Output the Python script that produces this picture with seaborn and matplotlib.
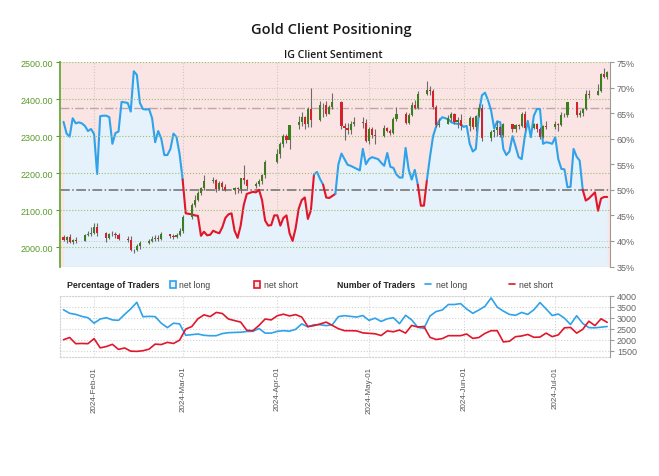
import pandas as pd
import matplotlib
matplotlib.use("Agg")
from matplotlib import pyplot as plt
from matplotlib.patches import Rectangle
from matplotlib.lines import Line2D
import matplotlib.dates as mdates
import seaborn as sns

sns.set_style("white")
plt.rcParams['font.family'] = ['Liberation Sans', 'DejaVu Sans']

# ---------------------------------
# DATA

# gold daily candles, weekdays, market closed on Good Friday
candle_dates = pd.bdate_range('2024-01-22', '2024-07-18').drop(pd.Timestamp('2024-03-29'))
opens = [2029, 2021, 2029, 2014, 2021, 2018, 2033, 2037, 2039, 2054,
         2039, 2025, 2035, 2035, 2034, 2024, 2020, 1992, 1992, 2004,
         2013, 2017, 2024, 2025, 2024, 2035, 2031, 2029, 2034, 2044,
         2083, 2114, 2128, 2148, 2159, 2179, 2182, 2158, 2175, 2162,
         2155, 2160, 2157, 2186, 2181, 2165, 2172, 2179, 2195,
         2230, 2251, 2280, 2300, 2290, 2330, 2339, 2352, 2333, 2373,
         2344, 2383, 2383, 2361, 2379, 2392, 2327, 2322, 2316, 2332,
         2337, 2335, 2286, 2320, 2303, 2301, 2323, 2314, 2309, 2346,
         2360, 2336, 2358, 2385, 2376, 2415, 2425, 2421, 2379, 2329,
         2334, 2350, 2360, 2338, 2343, 2327, 2350, 2326, 2355, 2375,
         2294, 2311, 2316, 2324, 2303, 2333, 2319, 2329, 2328, 2360,
         2322, 2334, 2320, 2298, 2327, 2326, 2332, 2330, 2356, 2356,
         2392, 2358, 2363, 2372, 2415, 2411, 2422, 2469, 2460]
highs = [2033, 2032, 2037, 2023, 2027, 2036, 2044, 2056, 2065, 2066,
         2041, 2040, 2043, 2041, 2039, 2031, 2032, 1997, 2008, 2016,
         2023, 2032, 2033, 2034, 2041, 2037, 2037, 2038, 2052, 2088,
         2119, 2142, 2153, 2164, 2195, 2189, 2185, 2178, 2180, 2170,
         2164, 2163, 2188, 2222, 2184, 2176, 2185, 2198, 2236,
         2266, 2285, 2305, 2305, 2330, 2354, 2365, 2355, 2378, 2431,
         2396, 2390, 2395, 2385, 2417, 2395, 2335, 2335, 2340, 2352,
         2353, 2346, 2326, 2326, 2320, 2330, 2326, 2319, 2351, 2378,
         2364, 2362, 2391, 2398, 2422, 2450, 2434, 2426, 2385, 2350,
         2358, 2364, 2362, 2352, 2361, 2354, 2352, 2358, 2388, 2387,
         2316, 2318, 2342, 2327, 2335, 2334, 2332, 2334, 2365, 2368,
         2335, 2336, 2324, 2330, 2340, 2340, 2336, 2365, 2363, 2392,
         2393, 2370, 2375, 2425, 2424, 2440, 2470, 2483, 2477]
lows = [2016, 2011, 2011, 2009, 2011, 2016, 2030, 2031, 2035, 2030,
        2014, 2022, 2030, 2025, 2020, 2015, 1990, 1984, 1989, 1997,
        2010, 2014, 2018, 2018, 2021, 2026, 2024, 2025, 2030, 2038,
        2076, 2109, 2125, 2142, 2154, 2175, 2150, 2155, 2155, 2152,
        2145, 2146, 2146, 2172, 2157, 2160, 2166, 2172, 2186,
        2228, 2240, 2270, 2282, 2266, 2320, 2328, 2320, 2325, 2326,
        2340, 2352, 2355, 2360, 2373, 2320, 2291, 2305, 2305, 2327,
        2322, 2285, 2280, 2295, 2278, 2298, 2310, 2303, 2306, 2340,
        2333, 2333, 2354, 2372, 2373, 2411, 2410, 2374, 2325, 2324,
        2332, 2340, 2334, 2323, 2317, 2313, 2318, 2315, 2352, 2287,
        2286, 2298, 2300, 2299, 2299, 2311, 2310, 2320, 2326, 2316,
        2318, 2310, 2293, 2294, 2319, 2318, 2315, 2327, 2352, 2353,
        2353, 2351, 2355, 2370, 2403, 2411, 2418, 2458, 2455]
closes = [2021, 2029, 2014, 2021, 2018, 2033, 2037, 2039, 2054, 2039,
          2025, 2035, 2035, 2034, 2024, 2020, 1992, 1992, 2004, 2013,
          2017, 2024, 2025, 2024, 2035, 2031, 2029, 2034, 2044, 2083,
          2114, 2128, 2148, 2159, 2179, 2182, 2158, 2175, 2162, 2155,
          2160, 2157, 2186, 2181, 2165, 2172, 2179, 2195, 2230,
          2251, 2280, 2300, 2290, 2330, 2339, 2352, 2333, 2373, 2344,
          2383, 2383, 2361, 2379, 2392, 2327, 2322, 2316, 2332, 2337,
          2335, 2286, 2320, 2303, 2301, 2323, 2314, 2309, 2346, 2360,
          2336, 2358, 2385, 2376, 2415, 2425, 2421, 2379, 2329, 2334,
          2350, 2360, 2338, 2343, 2327, 2350, 2326, 2355, 2375, 2294,
          2311, 2316, 2324, 2303, 2333, 2319, 2329, 2328, 2360, 2322,
          2334, 2320, 2298, 2327, 2326, 2332, 2330, 2356, 2356, 2392,
          2358, 2363, 2372, 2415, 2411, 2422, 2469, 2460, 2472]

# IG client sentiment, % of traders net long (daily)
sent_dates = pd.date_range('2024-01-22', '2024-07-18', freq='D')
net_long_pct = [
    63.3, 61.0, 60.4, 64.0, 63.0, 63.2, 63.0, 62.5, 61.5, 61.9,
    60.9, 53.1, 64.4, 64.5, 64.5, 64.2, 59.0, 61.1, 61.4, 67.2, 67.1, 67.0, 65.3, 73.2, 72.5,
    67.0, 65.8, 65.7, 65.8, 64.0, 59.3, 61.5, 60.0, 56.8, 56.8, 58.0, 61.0, 60.3, 57.0,
    52.0, 45.4, 45.3, 45.2, 45.0, 44.9, 41.0, 41.8, 41.1, 41.2, 42.0, 41.7, 41.5, 42.7, 44.5,
    45.2, 45.4, 42.0, 40.6, 43.0, 47.0, 49.2, 49.4, 49.6, 49.5, 50.0, 48.0, 44.0, 43.0, 43.1, 45.0,
    45.0, 43.0, 44.5, 45.0, 41.5, 40.0, 42.5, 46.3, 48.0, 48.5, 44.3, 46.0, 53.0, 53.5, 52.1,
    51.0, 48.5, 48.4, 48.8, 49.2, 55.0, 57.1, 56.0, 54.9, 54.7, 54.4, 54.1, 53.8, 58.0, 55.0,
    56.0, 56.4, 56.2, 56.0, 55.3, 54.7, 57.2, 54.5, 54.3, 53.0, 52.4, 52.4, 58.2, 54.0, 52.0, 53.9,
    51.0, 46.9, 46.9, 52.0, 56.5, 60.5, 62.4, 63.5, 64.2, 64.0, 63.8, 63.2, 63.0, 62.9, 62.9,
    62.3, 62.5, 59.0, 57.5, 58.0, 65.0, 68.5, 69.0, 67.5, 65.5, 62.0, 63.4, 63.2, 58.0, 56.8,
    57.5, 60.5, 58.5, 56.4, 56.0, 60.3, 63.5, 60.3, 64.5, 65.8, 65.8, 59.0, 59.3, 59.2, 59.0,
    60.3, 56.0, 54.1, 54.0, 50.5, 50.6, 58.0, 56.5, 55.7, 50.0, 47.9, 48.3, 48.9, 49.5, 45.9,
    48.3, 48.6, 48.6]

# number of traders, every second day
count_dates = pd.date_range('2024-01-22', '2024-07-18', freq='2D')
long_count = [3360, 3200, 3150, 3060, 3000, 2750, 2940, 3000, 2900, 2880,
              3150, 3400, 3700, 3047, 3060, 3050, 2750, 2550, 2750, 2720,
              2200, 2230, 2259, 2200, 2180, 2183, 2280, 2320, 2330, 2340,
              2375, 2380, 2510, 2300, 2300, 2380, 2410, 2390, 2470, 2720,
              2580, 2680, 2680, 2640, 2680, 3050, 3092, 3060, 3030, 3100,
              2880, 2980, 2830, 2950, 3000, 2730, 3110, 2900, 2560, 2520,
              3080, 3280, 3350, 3600, 3600, 3640, 3395, 3200, 3350, 3520,
              3900, 3480, 3300, 3150, 3110, 3240, 3150, 3360, 3690, 3400,
              3100, 3168, 2980, 2690, 3090, 2740, 2550, 2540, 2570, 2600]
short_count = [2000, 2100, 1820, 1830, 1820, 2050, 1630, 1690, 1790, 1560,
               1625, 1480, 1470, 1500, 1570, 1800, 1780, 1880, 1830, 1980,
               2480, 2600, 2950, 3130, 3050, 3240, 3190, 2940, 2870, 2800,
               2430, 2410, 2650, 2940, 2900, 3090, 3160, 3080, 3140, 3030,
               2600, 2640, 2714, 2800, 2650, 2500, 2410, 2410, 2400, 2310,
               2289, 2270, 2190, 2400, 2360, 2440, 2300, 2650, 2580, 2600,
               2107, 2010, 2050, 2183, 2183, 2183, 2259, 2060, 2100, 2289,
               2410, 2410, 1900, 1930, 2138, 2170, 2240, 2110, 2120, 2300,
               2140, 2220, 2540, 2560, 2300, 2470, 2840, 2640, 2950, 2790]

price_ticks = [2000, 2100, 2200, 2300, 2400, 2500]
pct_ticks = [35, 40, 45, 50, 55, 60, 65, 70, 75]
count_ticks = [1500, 2000, 2500, 3000, 3500, 4000]
month_ticks = pd.to_datetime(['2024-02-01', '2024-03-01', '2024-04-01',
                              '2024-05-01', '2024-06-01', '2024-07-01'])

# ---------------------------------
BLUE = '#2ea2ea'
RED = '#e0162b'
GREEN_TXT = '#5a9a2a'
GRAY_TXT = '#666666'
xlim = (pd.Timestamp('2024-01-20 20:00'), pd.Timestamp('2024-07-18 22:00'))

fig = plt.figure(figsize=(6.59, 4.77), dpi=100)

fig.text(0.503, 1 - 30 / 477, 'Gold Client Positioning', ha='center', va='center',
         family=['Open Sans', 'DejaVu Sans'], fontweight='semibold', fontsize=10.5, color='#1a1a1a')
fig.text(0.505, 1 - 55 / 477, 'IG Client Sentiment', ha='center', va='center',
         family=['Open Sans', 'DejaVu Sans'], fontweight='semibold', fontsize=7.6, color='#1a1a1a')

# main panel: sentiment on the right axis, candles on the left axis
ax = fig.add_axes([0.0910, 0.4392, 0.8346, 0.4287])
ax.set_facecolor('#fbe4e4')
ax.fill_between(sent_dates, 35, net_long_pct, color='#e5f2fb', lw=0)

# colour the sentiment line by side of 50%
run_x, run_y, run_c = [sent_dates[0]], [net_long_pct[0]], None
for i in range(1, len(net_long_pct)):
    c = RED if (net_long_pct[i - 1] + net_long_pct[i]) / 2 < 50 else BLUE
    if run_c is not None and c != run_c:
        ax.plot(run_x, run_y, color=run_c, lw=1.5, zorder=4, solid_capstyle='round')
        run_x, run_y = [run_x[-1]], [run_y[-1]]
    run_c = c
    run_x.append(sent_dates[i])
    run_y.append(net_long_pct[i])
ax.plot(run_x, run_y, color=run_c, lw=1.5, zorder=4, solid_capstyle='round')

ax.axhline(50, color='#6e6e6e', lw=1.1, ls='-.', zorder=3)
ax.axhline(66.1, color='#bfa6a6', lw=1.0, ls='-.', zorder=3)
for p in [40, 70]:
    ax.axhline(p, color='#c4c4c4', lw=0.7, ls=':', zorder=2)
ax.axhline(35, color='#c4c4c4', lw=0.9, ls=':', zorder=2)
ax.set_ylim(35, 75)
ax.set_xlim(*xlim)
ax.set_xticks(month_ticks)
ax.tick_params(axis='x', length=0, labelbottom=False)
ax.grid(axis='x', color='#c8c8c8', ls=':', lw=0.8)

axp = ax.twinx()
axp.set_ylim(1948.5, 2500)
axp.set_yticks(price_ticks)
axp.set_yticklabels([f'{p:.2f}' for p in price_ticks])
axp.yaxis.tick_left()
axp.tick_params(axis='y', colors=GREEN_TXT, labelsize=6.5, length=3, width=0.8, pad=2)
axp.grid(axis='y', color='#95c16a', ls=':', lw=0.8)
for s in ['right', 'top', 'bottom']:
    axp.spines[s].set_visible(False)
axp.spines['left'].set_color('#6aa83a')
axp.spines['left'].set_linewidth(1.3)

# percentage ticks go on the right
ax.set_yticks(pct_ticks)
ax.set_yticklabels([f'{p}%' for p in pct_ticks])
ax.yaxis.tick_right()
ax.tick_params(axis='y', left=False, labelleft=False, right=True, labelright=True,
               colors='#9a9a9a', labelcolor=GRAY_TXT, labelsize=6.5, length=3, width=0.8, pad=2)
for s in ['left', 'top', 'bottom']:
    ax.spines[s].set_visible(False)
ax.spines['right'].set_color('#9a9a9a')

candles = pd.DataFrame({'date': candle_dates, 'open': opens, 'high': highs,
                        'low': lows, 'close': closes})
up = candles['close'] >= candles['open']
axp.vlines(candles['date'], candles['low'], candles['high'], color='#6b6b6b', lw=0.8, zorder=5)
axp.bar(candles['date'], (candles['close'] - candles['open']).abs().clip(lower=1.5),
        bottom=candles[['open', 'close']].min(axis=1), width=0.7,
        color=[('#3c7d20' if u else '#d2232c') for u in up], lw=0, zorder=6)
axp.set_xlim(*xlim)

# legend row
fig.text(67 / 659, 0.4025, 'Percentage of Traders', fontweight='bold', fontsize=6.3,
         color='#222222', va='center')
fig.add_artist(Rectangle((169.5 / 659, 1 - 288.5 / 477), 6.5 / 659, 7 / 477, transform=fig.transFigure,
                         facecolor='#e5f2fb', edgecolor=BLUE, lw=1.2))
fig.text(179 / 659, 0.4025, 'net long', fontsize=6.3, color='#444444', va='center')
fig.add_artist(Rectangle((253.5 / 659, 1 - 288.5 / 477), 6.5 / 659, 7 / 477, transform=fig.transFigure,
                         facecolor='#fbe4e4', edgecolor=RED, lw=1.2))
fig.text(263.5 / 659, 0.4025, 'net short', fontsize=6.3, color='#444444', va='center')
fig.text(336.7 / 659, 0.4025, 'Number of Traders', fontweight='bold', fontsize=6.3,
         color='#222222', va='center')
fig.add_artist(Line2D([425 / 659, 431 / 659], [0.4025, 0.4025], transform=fig.transFigure, color=BLUE, lw=1.2))
fig.text(435.5 / 659, 0.4025, 'net long', fontsize=6.3, color='#444444', va='center')
fig.add_artist(Line2D([509 / 659, 514.5 / 659], [0.4025, 0.4025], transform=fig.transFigure, color=RED, lw=1.2))
fig.text(519 / 659, 0.4025, 'net short', fontsize=6.3, color='#444444', va='center')

# lower panel: number of traders
axb = fig.add_axes([0.0910, 0.2488, 0.8346, 0.1292])
counts = pd.DataFrame({'date': count_dates, 'long': long_count, 'short': short_count})
sns.lineplot(data=counts, x='date', y='long', color=BLUE, lw=1.2, ax=axb)
sns.lineplot(data=counts, x='date', y='short', color=RED, lw=1.2, ax=axb)
axb.set_xlabel('')
axb.set_ylabel('')
axb.set_xlim(*xlim)
axb.set_ylim(1200, 4000)
axb.set_yticks(count_ticks)
axb.yaxis.tick_right()
axb.tick_params(axis='y', colors='#9a9a9a', labelcolor=GRAY_TXT, labelsize=6.5, length=3, width=0.8, pad=2)
axb.grid(axis='both', color='#d2d2d2', ls=':', lw=0.8)
axb.set_xticks(month_ticks)
axb.xaxis.set_major_formatter(mdates.DateFormatter('%Y-%b-%d'))
axb.tick_params(axis='x', colors='#aaaaaa', labelcolor='#555555', labelsize=5.8,
                length=4, width=0.8, labelrotation=90, pad=2)
for s in ['left', 'top', 'bottom']:
    axb.spines[s].set_linestyle(':')
    axb.spines[s].set_color('#d2d2d2')
axb.spines['right'].set_color('#9a9a9a')

plt.savefig('out.png', dpi=100)
